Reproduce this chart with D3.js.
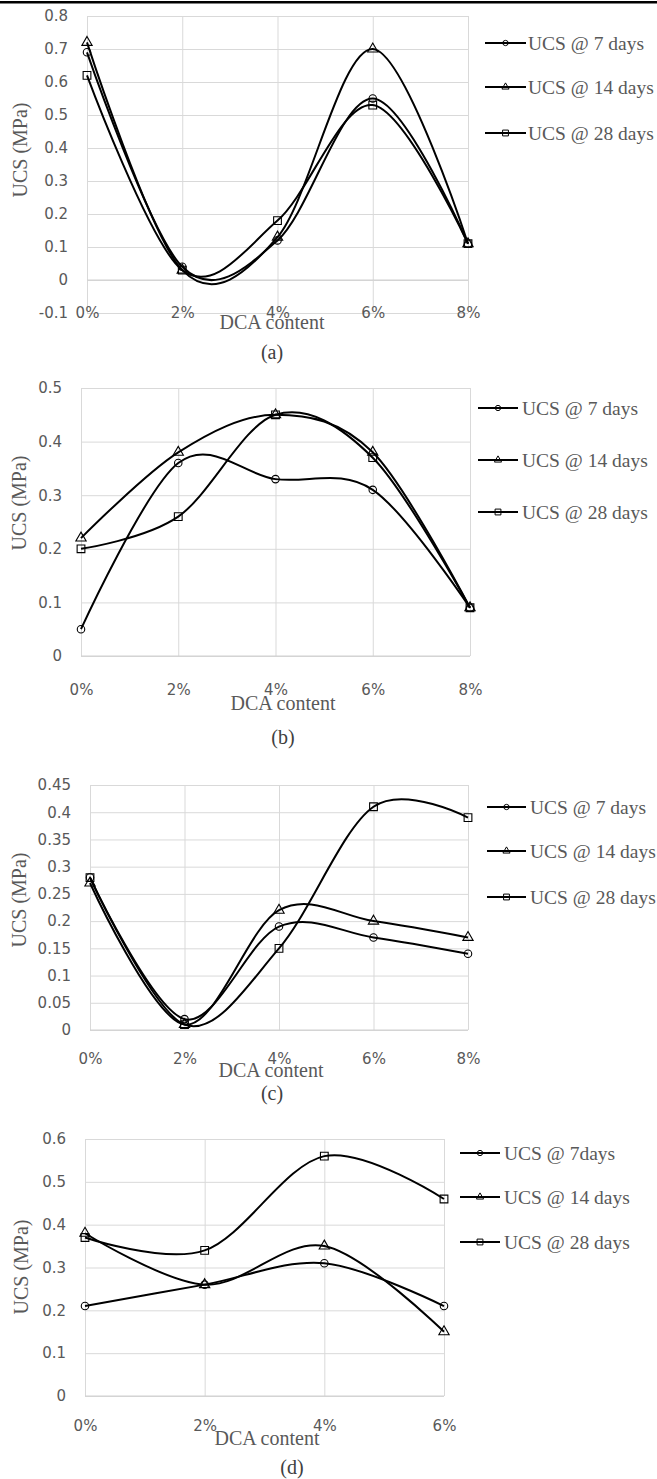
<!DOCTYPE html>
<html>
<head>
<meta charset="utf-8">
<script src="https://cdn.jsdelivr.net/npm/d3@7"></script>
<style>
  body { margin: 0; background: #fff; }
  svg { display: block; }
</style>
</head>
<body>
<div id="chart"></div>
<script>
// DCA content categories
const catsABC = ["0%", "2%", "4%", "6%", "8%"];
const catsD = ["0%", "2%", "4%", "6%"];

// (a)
const a7 = [0.69, 0.04, 0.12, 0.55, 0.11];
const a14 = [0.72, 0.03, 0.13, 0.70, 0.11];
const a28 = [0.62, 0.03, 0.18, 0.53, 0.11];
const ticksA = [-0.1, 0, 0.1, 0.2, 0.3, 0.4, 0.5, 0.6, 0.7, 0.8];

// (b)
const b7 = [0.05, 0.36, 0.33, 0.31, 0.09];
const b14 = [0.22, 0.38, 0.45, 0.38, 0.09];
const b28 = [0.20, 0.26, 0.45, 0.37, 0.09];
const ticksB = [0, 0.1, 0.2, 0.3, 0.4, 0.5];

// (c)
const c7 = [0.28, 0.02, 0.19, 0.17, 0.14];
const c14 = [0.27, 0.01, 0.22, 0.20, 0.17];
const c28 = [0.28, 0.01, 0.15, 0.41, 0.39];
const ticksC = [0, 0.05, 0.1, 0.15, 0.2, 0.25, 0.3, 0.35, 0.4, 0.45];

// (d)
const d7 = [0.21, 0.26, 0.31, 0.21];
const d14 = [0.38, 0.26, 0.35, 0.15];
const d28 = [0.37, 0.34, 0.56, 0.46];
const ticksD = [0, 0.1, 0.2, 0.3, 0.4, 0.5, 0.6];

const legendNames = ["UCS @ 7 days", "UCS @ 14 days", "UCS @ 28 days"];
const legendNamesD = ["UCS @ 7days", "UCS @ 14 days", "UCS @ 28 days"];

const W = 657, H = 1479;
const grey = "#595959";
const serif = "'Liberation Serif', 'Times New Roman', serif";
const sans = "'DejaVu Sans', sans-serif";

const symbols = [d3.symbolCircle, d3.symbolTriangle, d3.symbolSquare];
const symSize = [44, 46, 60];
const legSize = [22, 22, 34];

const panels = [
    { cats: catsABC, series: [a7, a14, a28], ticks: ticksA, names: legendNames, cap: "(a)",
      left: 87, right: 468, top: 16, bottom: 313, xLabY: 313,
      dca: [272, 322], capPos: [272, 352], yTitle: [20, 150],
      leg: { x0: 485, x1: 526, tx: 528, ys: [43, 87, 133] } },
    { cats: catsABC, series: [b7, b14, b28], ticks: ticksB, names: legendNames, cap: "(b)",
      left: 81, right: 470, top: 388, bottom: 656, xLabY: 690,
      dca: [283, 703], capPos: [283, 737], yTitle: [19, 503],
      leg: { x0: 478, x1: 518, tx: 522, ys: [408, 460, 512] } },
    { cats: catsABC, series: [c7, c14, c28], ticks: ticksC, names: legendNames, cap: "(c)",
      left: 90, right: 468, top: 785, bottom: 1030, xLabY: 1059,
      dca: [271, 1070], capPos: [272, 1093], yTitle: [19, 900],
      leg: { x0: 487, x1: 526, tx: 530, ys: [807, 851, 897] } },
    { cats: catsD, series: [d7, d14, d28], ticks: ticksD, names: legendNamesD, cap: "(d)",
      left: 85, right: 444, top: 1139, bottom: 1396, xLabY: 1426,
      dca: [267, 1438], capPos: [292, 1467], yTitle: [21, 1267],
      leg: { x0: 460, x1: 500, tx: 504, ys: [1153, 1197, 1242] } }
];

const svg = d3.select("#chart").append("svg")
    .attr("width", W)
    .attr("height", H);

// thick rule at the top of the figure
svg.append("line")
    .attr("x1", 0).attr("x2", W)
    .attr("y1", 2.2).attr("y2", 2.2)
    .attr("stroke", "#000")
    .attr("stroke-width", 2.6);

const fmt = v => String(+v.toFixed(2));

panels.forEach(function (p) {
    const g = svg.append("g");
    const x = d3.scalePoint().domain(p.cats).range([p.left, p.right]);
    const y = d3.scaleLinear()
        .domain([p.ticks[0], p.ticks[p.ticks.length - 1]])
        .range([p.bottom, p.top]);
    const w = p.right - p.left;
    const h = p.bottom - p.top;

    // horizontal grid + y tick labels
    const ya = g.append("g")
        .attr("transform", "translate(" + p.left + ",0)")
        .call(d3.axisLeft(y).tickValues(p.ticks).tickSize(-w).tickPadding(19).tickFormat(fmt));
    ya.select(".domain").remove();
    ya.selectAll("line").attr("stroke", "#d9d9d9").attr("stroke-width", 1);
    ya.selectAll("text")
        .attr("fill", grey)
        .style("font-family", sans)
        .style("font-size", "15px");

    // vertical grid
    const xg = g.append("g")
        .attr("transform", "translate(0," + p.bottom + ")")
        .call(d3.axisBottom(x).tickSize(-h).tickFormat(""));
    xg.select(".domain").remove();
    xg.selectAll("line").attr("stroke", "#d9d9d9").attr("stroke-width", 1);

    // zero line
    g.append("line")
        .attr("x1", p.left).attr("x2", p.right)
        .attr("y1", y(0)).attr("y2", y(0))
        .attr("stroke", "#d0d0d0");

    // category labels
    const xa = g.append("g")
        .attr("transform", "translate(0," + p.xLabY + ")")
        .call(d3.axisBottom(x).tickSize(0).tickPadding(0));
    xa.select(".domain").remove();
    xa.selectAll("text")
        .attr("dy", "0.35em")
        .attr("fill", grey)
        .style("font-family", sans)
        .style("font-size", "15px");

    // smoothed series lines and markers
    const line = d3.line()
        .x((d, i) => x(p.cats[i]))
        .y(d => y(d))
        .curve(d3.curveCardinal.tension(0));

    p.series.forEach(function (s, k) {
        g.append("path")
            .datum(s)
            .attr("d", line)
            .attr("fill", "none")
            .attr("stroke", "#000")
            .attr("stroke-width", 2);

        g.selectAll(".m" + k)
            .data(s)
            .enter().append("path")
            .attr("class", "m" + k)
            .attr("transform", (d, i) => "translate(" + x(p.cats[i]) + "," + y(d) + ")")
            .attr("d", d3.symbol().type(symbols[k]).size(symSize[k]))
            .attr("fill", "none")
            .attr("stroke", "#000")
            .attr("stroke-width", 1.1);
    });

    // axis titles
    g.append("text")
        .attr("x", p.dca[0]).attr("y", p.dca[1])
        .attr("dy", "0.35em")
        .attr("text-anchor", "middle")
        .attr("fill", grey)
        .style("font-family", serif)
        .style("font-size", "20px")
        .text("DCA content");

    g.append("text")
        .attr("transform", "translate(" + p.yTitle[0] + "," + p.yTitle[1] + ") rotate(-90)")
        .attr("dy", "0.35em")
        .attr("text-anchor", "middle")
        .attr("fill", grey)
        .style("font-family", serif)
        .style("font-size", "20px")
        .text("UCS (MPa)");

    g.append("text")
        .attr("x", p.capPos[0]).attr("y", p.capPos[1])
        .attr("dy", "0.35em")
        .attr("text-anchor", "middle")
        .attr("fill", "#404040")
        .style("font-family", serif)
        .style("font-size", "20px")
        .text(p.cap);

    // legend
    const lg = g.selectAll(".leg")
        .data(p.names)
        .enter().append("g")
        .attr("class", "leg")
        .attr("transform", (d, i) => "translate(0," + p.leg.ys[i] + ")");

    lg.append("line")
        .attr("x1", p.leg.x0).attr("x2", p.leg.x1)
        .attr("stroke", "#000")
        .attr("stroke-width", 2);

    lg.append("path")
        .attr("transform", "translate(" + ((p.leg.x0 + p.leg.x1) / 2) + ",0)")
        .attr("d", (d, i) => d3.symbol().type(symbols[i]).size(legSize[i])())
        .attr("fill", "none")
        .attr("stroke", "#000")
        .attr("stroke-width", 1);

    lg.append("text")
        .attr("x", p.leg.tx)
        .attr("dy", "0.35em")
        .attr("fill", grey)
        .style("font-family", serif)
        .style("font-size", "19.5px")
        .text(d => d);
});
</script>
</body>
</html>
